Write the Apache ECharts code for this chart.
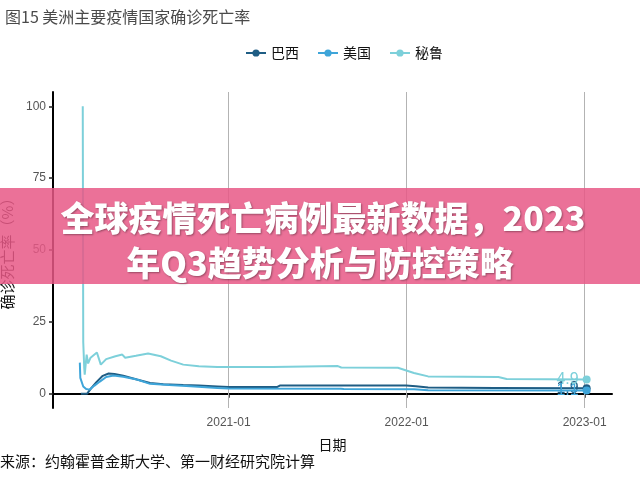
<!DOCTYPE html>
<html>
<head>
<meta charset="utf-8">
<script src="https://cdn.jsdelivr.net/npm/echarts@6/dist/echarts.min.js"></script>
<style>html,body{margin:0;padding:0;background:#fff}#c{width:640px;height:480px}</style>
</head>
<body>
<div id="c"></div>
<script>
var titleText = '图15 美洲主要疫情国家确诊死亡率';
var sourceText = '来源：约翰霍普金斯大学、第一财经研究院计算';
var bannerLines = ['全球疫情死亡病例最新数据，2023', '年Q3趋势分析与防控策略'];
var seriesNames = ['巴西', '美国', '秘鲁'];
var xTickDates = ['2021-01-01', '2022-01-01', '2023-01-01'];
var xRange = ['2020-01-07', '2023-02-26'];
var yTicks = [0, 25, 50, 75, 100];

var brazilDates = ['2020-03-04','2020-03-17','2020-03-25','2020-04-05','2020-04-18','2020-04-30','2020-05-12','2020-05-30','2020-06-27','2020-07-24','2020-08-20','2020-09-30','2020-11-01','2020-12-09','2021-01-01','2021-04-10','2021-04-16','2021-12-31','2022-01-20','2022-02-14','2022-07-01','2023-01-05'];
var brazilRates = [0,0,1.8,4.0,6.2,7.0,6.8,6.2,4.9,3.7,3.3,3.0,2.8,2.5,2.3,2.3,2.8,2.8,2.6,2.1,2.0,1.9];

var usDates = ['2020-03-02','2020-03-03','2020-03-09','2020-03-15','2020-03-22','2020-04-01','2020-04-12','2020-04-25','2020-05-10','2020-05-30','2020-06-27','2020-07-24','2020-09-01','2020-10-15','2020-12-09','2021-01-01','2021-08-19','2021-08-25','2022-01-16','2022-02-14','2023-01-05'];
var usRates = [10.8,5.5,2.5,1.6,1.4,2.8,4.2,5.8,6.3,5.9,4.9,3.4,3.0,2.6,2.0,1.8,1.7,1.6,1.5,1.2,1.1];

var peruDates = ['2020-03-08','2020-03-09','2020-03-11','2020-03-12','2020-03-16','2020-03-19','2020-03-24','2020-04-06','2020-04-14','2020-04-25','2020-05-14','2020-05-28','2020-06-03','2020-06-25','2020-07-20','2020-08-15','2020-09-05','2020-09-30','2020-11-01','2020-12-09','2021-04-01','2021-08-13','2021-08-20','2021-12-14','2022-01-16','2022-02-14','2022-07-08','2022-07-25','2023-01-05'];
var peruRates = [100,18,9,6.6,13.6,10.5,12.5,14.3,10.1,12.0,13.0,13.6,12.5,13.2,14.0,13.0,11.5,10.1,9.5,9.3,9.3,9.6,9.1,9.0,7.2,6.0,5.8,5.1,4.9];

var colors = ['#1f5d84', '#3ea5d9', '#7dd0da'];

function ts(d) { return Date.UTC(+d.slice(0, 4), +d.slice(5, 7) - 1, +d.slice(8, 10)); }
function pairs(d, v) { return d.map(function (x, i) { return [ts(x), v[i]]; }); }
function fmtDate(t) {
  var d = new Date(t);
  var m = d.getUTCMonth() + 1;
  return d.getUTCFullYear() + '-' + (m < 10 ? '0' + m : m);
}
var xTickVals = xTickDates.map(ts);

function makeSeries(name, dates, rates, color, idx) {
  var last = dates.length - 1;
  var s = {
    name: name,
    type: 'line',
    data: pairs(dates, rates),
    symbol: 'circle',
    showSymbol: true,
    showAllSymbol: true,
    symbolSize: function (val, p) { return p.dataIndex === last ? 8 : 0; },
    lineStyle: { width: 2, color: color },
    itemStyle: { color: color },
    label: {
      show: true,
      position: 'left',
      distance: 4,
      fontSize: 16,
      color: color,
      fontFamily: 'Liberation Sans, Arial, sans-serif',
      formatter: function (p) { return p.dataIndex === last ? String(p.value[1]) : ''; }
    },
    emphasis: { disabled: true },
    z: 3 + idx
  };
  if (idx === 0) {
    s.markLine = {
      silent: true,
      symbol: ['none', 'none'],
      label: { show: false },
      lineStyle: { color: '#b3b3b3', width: 1, type: 'solid' },
      data: xTickVals.map(function (v) { return { xAxis: v }; }),
      z: 1
    };
  }
  return s;
}

var chart = echarts.init(document.getElementById('c'));
chart.setOption({
  animation: false,
  backgroundColor: '#ffffff',
  color: colors,
  title: {
    text: titleText,
    left: 0,
    top: 4,
    textStyle: { fontSize: 16, fontWeight: 'normal', color: '#4a4a4a', fontFamily: 'Noto Sans CJK SC' }
  },
  legend: {
    data: seriesNames,
    top: 41,
    left: 240,
    itemWidth: 20,
    itemHeight: 9,
    itemGap: 18,
    textStyle: { fontSize: 14, color: '#111', fontFamily: 'Noto Sans CJK SC' }
  },
  grid: { left: 53, right: 28, top: 92, bottom: 72, containLabel: false, outerBoundsMode: 'none' },
  xAxis: {
    type: 'value',
    min: ts(xRange[0]),
    max: ts(xRange[1]),
    name: '日期',
    nameLocation: 'middle',
    nameGap: 30,
    nameTextStyle: { fontSize: 14, color: '#111', fontFamily: 'Noto Sans CJK SC' },
    axisLine: { lineStyle: { color: '#000', width: 2 } },
    axisTick: { show: true, length: 4, lineStyle: { color: '#222', width: 1.5 }, customValues: xTickVals },
    axisLabel: { fontSize: 12, color: '#555', margin: 9, fontFamily: 'Liberation Sans, Arial, sans-serif',
      customValues: xTickVals, formatter: function (v) { return fmtDate(v); } },
    splitLine: { show: false }
  },
  yAxis: {
    type: 'value',
    min: -5,
    max: 105,
    name: '确诊死亡率（%）',
    nameLocation: 'middle',
    nameGap: 34,
    nameRotate: 90,
    nameTextStyle: { fontSize: 15, color: '#111', fontFamily: 'Noto Sans CJK SC' },
    axisLine: { show: true, lineStyle: { color: '#000', width: 2 } },
    axisTick: { show: true, length: 4, lineStyle: { color: '#222', width: 1.5 }, customValues: yTicks },
    axisLabel: { fontSize: 12, color: '#555', margin: 7, fontFamily: 'Liberation Sans, Arial, sans-serif', customValues: yTicks },
    splitLine: { show: false }
  },
  series: [
    makeSeries(seriesNames[0], brazilDates, brazilRates, colors[0], 0),
    makeSeries(seriesNames[1], usDates, usRates, colors[1], 1),
    makeSeries(seriesNames[2], peruDates, peruRates, colors[2], 2)
  ],
  graphic: [
    { type: 'text', left: 0, top: 454, style: { text: sourceText, fill: '#111', font: '15px "Noto Sans CJK SC"' }, z: 10 },
    { type: 'rect', left: 0, top: 188, shape: { width: 640, height: 96 }, style: { fill: 'rgba(232,88,134,0.85)' }, z: 20 },
    { type: 'text', x: 323, y: 218, style: { text: bannerLines[0], fill: '#fff', font: '900 34px "Noto Sans CJK SC"', align: 'center', verticalAlign: 'middle', textShadowColor: 'rgba(0,0,0,0.35)', textShadowBlur: 2, textShadowOffsetX: 1, textShadowOffsetY: 1 }, z: 21 },
    { type: 'text', x: 320, y: 263, style: { text: bannerLines[1], fill: '#fff', font: '900 34px "Noto Sans CJK SC"', align: 'center', verticalAlign: 'middle', textShadowColor: 'rgba(0,0,0,0.35)', textShadowBlur: 2, textShadowOffsetX: 1, textShadowOffsetY: 1 }, z: 21 }
  ]
});
</script>
</body>
</html>
